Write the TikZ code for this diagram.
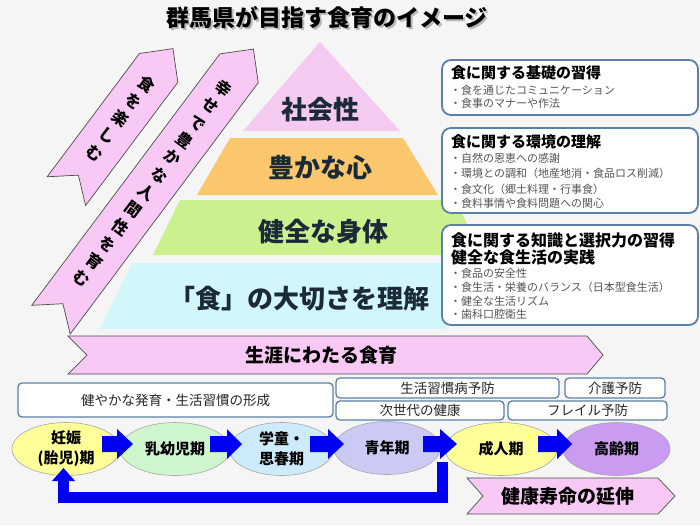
\documentclass[tikz,border=0pt]{standalone}
\usepackage{fontspec}
\setmainfont{Noto Sans CJK JP}
\usetikzlibrary{shapes.geometric}
\definecolor{bg}{HTML}{F5F5F5}
\definecolor{pinkA}{HTML}{F8C9F5}
\definecolor{pyrPink}{HTML}{F4CAF1}
\definecolor{pyrOrange}{HTML}{FAC76C}
\definecolor{pyrGreen}{HTML}{CDF08E}
\definecolor{pyrBlue}{HTML}{D2F7FA}
\definecolor{pyrC}{HTML}{1B2A38}
\definecolor{boxB}{HTML}{5B80A8}
\definecolor{itemC}{HTML}{555555}
\definecolor{arrowblue}{HTML}{0000F5}
\definecolor{eYellow}{HTML}{FFFF99}
\definecolor{eGreen}{HTML}{CFF5CF}
\definecolor{eBlue}{HTML}{CDEBFA}
\definecolor{eLav}{HTML}{CACAF5}
\definecolor{ePurple}{HTML}{C99CF2}
\newcommand{\bluearrow}[3]{\fill[arrowblue] (#1,436) -- (#2,436) -- (#2,429) -- (#3,444) -- (#2,459) -- (#2,452) -- (#1,452) -- cycle;}
\tikzset{
  pinkshape/.style={fill=pinkA, draw=gray!60!black, line width=0.7pt},
  pyrtext/.style={font=\fontsize{26}{26}\selectfont\bfseries, text=pyrC, inner sep=0},
  arrowtext/.style={font=\fontsize{16}{21.6}\selectfont\bfseries, align=center, inner sep=0, text=black},
  rbox/.style={draw=boxB, line width=1.8pt, fill=white, rounded corners=9pt, inner sep=0},
  rtitle/.style={anchor=west, inner sep=0, font=\fontsize{15}{15}\selectfont\bfseries, text=black},
  ritem/.style={anchor=west, inner sep=0, font=\fontsize{11}{11}\selectfont, text=itemC},
  lbox/.style={draw=boxB, line width=1.3pt, fill=white, rounded corners=4pt, inner sep=0,
    font=\fontsize{13.5}{14}\selectfont, text=gray!30!black},
  ell/.style={ellipse, draw=gray!70, line width=0.6pt, minimum width=108pt, minimum height=53pt,
    inner sep=0, font=\fontsize{15}{20}\selectfont\bfseries, align=center, text=black},
  bandtext/.style={font=\fontsize{19}{19}\selectfont\bfseries, inner sep=0, text=black}
}
\begin{document}
\begin{tikzpicture}[x=1pt,y=-1pt]
\useasboundingbox (0,0) rectangle (700,525);
\fill[bg] (0,0) rectangle (700,525);

% title (with its grey shadow)
\node[font=\fontsize{23}{23}\selectfont\bfseries, text=gray!55, inner sep=0] (titleshadow) at (329,19.5) {群馬県が目指す食育のイメージ};
\node[font=\fontsize{23}{23}\selectfont\bfseries, text=black, inner sep=0] (title) at (327,17.5) {群馬県が目指す食育のイメージ};

% pyramid
\fill[pyrPink] (320,42) -- (400,131) -- (243,131) -- cycle;
\fill[pyrOrange] (230,138) -- (403,138) -- (438,195) -- (197,195) -- cycle;
\fill[pyrGreen] (180,200) -- (455,200) -- (470,230) -- (470,255) -- (153,255) -- cycle;
\fill[pyrBlue] (132,263) -- (446,263) -- (446,329) -- (100,329) -- cycle;
\node[pyrtext] (p1) at (320,110) {社会性};
\node[pyrtext] (p2) at (320,168) {豊かな心};
\node[pyrtext] (p3) at (323,232) {健全な身体};
\node[pyrtext] (p4) at (299,299) {「食」の大切さを理解};

% left arrows
\begin{scope}[shift={(112.5,129.5)}, rotate=-36.8, y=1pt]
  \draw[pinkshape] (-24,-77) -- (-24,77) -- (0,101) -- (24,77) -- (24,-77) -- (0,-57) -- cycle;
  \node[arrowtext, transform shape] (a1) at (0,14) {食\\を\\楽\\し\\む};
\end{scope}
\begin{scope}[shift={(145,194)}, rotate=-36.8, y=1pt]
  \draw[pinkshape] (-24,-157) -- (-24,157) -- (0,181) -- (24,157) -- (24,-157) -- (0,-137) -- cycle;
  \node[arrowtext, transform shape] (a2) at (0,13) {幸\\せ\\で\\豊\\か\\な\\人\\間\\性\\を\\育\\む};
\end{scope}

% right boxes
\node[rbox, minimum width=256pt, minimum height=55pt] (r1) at (570,87.5) {};
\node[rtitle] (r1t) at (451,73) {食に関する基礎の習得};
\node[ritem] (r1a) at (450,90) {・食を通じたコミュニケーション};
\node[ritem] (r1b) at (450,103.5) {・食事のマナーや作法};

\node[rbox, minimum width=256pt, minimum height=85pt] (r2) at (570,170.5) {};
\node[rtitle] (r2t) at (451,142) {食に関する環境の理解};
\node[ritem] (r2a) at (450,158) {・自然の恩恵への感謝};
\node[ritem] (r2b) at (450,173.5) {・環境との調和（地産地消・食品ロス削減）};
\node[ritem] (r2c) at (450,189) {・食文化（郷土料理・行事食）};
\node[ritem] (r2d) at (450,203.5) {・食料事情や食料問題への関心};

\node[rbox, minimum width=256pt, minimum height=100pt] (r3) at (570,275) {};
\node[rtitle, font=\fontsize{16}{16}\selectfont\bfseries] (r3t) at (451,240) {食に関する知識と選択力の習得};
\node[rtitle, font=\fontsize{16}{16}\selectfont\bfseries] (r3u) at (451,257) {健全な食生活の実践};
\node[ritem] (r3a) at (450,273) {・食品の安全性};
\node[ritem] (r3b) at (450,287) {・食生活・栄養のバランス（日本型食生活）};
\node[ritem] (r3c) at (450,301) {・健全な生活リズム};
\node[ritem] (r3d) at (450,314.5) {・歯科口腔衛生};

% lifelong band
\draw[pinkshape] (68,336) -- (587,336) -- (603,355) -- (587,374) -- (68,374) -- (87,355) -- cycle;
\node[bandtext] (band1) at (321,355) {生涯にわたる食育};

% bottom boxes
\node[lbox, minimum width=315pt, minimum height=34pt] (b1) at (175.5,400) {健やかな発育・生活習慣の形成};
\node[lbox, minimum width=223pt, minimum height=20pt] (b2) at (447.5,388) {生活習慣病予防};
\node[lbox, minimum width=100pt, minimum height=20pt] (b3) at (615,388) {介護予防};
\node[lbox, minimum width=168pt, minimum height=19pt] (b4) at (420,410.5) {次世代の健康};
\node[lbox, minimum width=159pt, minimum height=19pt] (b5) at (587.5,410.5) {フレイル予防};

% ellipses
\node[ell, fill=eYellow] (e1) at (66,449) {妊娠\\(胎児)期};
\node[ell, fill=eGreen, minimum width=110pt] (e2) at (175,449) {乳幼児期};
\node[ell, fill=eBlue, minimum width=104pt] (e3) at (281.5,449) {学童・\\思春期};
\node[ell, fill=eLav, minimum width=106pt] (e4) at (387,448) {青年期};
\node[ell, fill=eYellow, minimum width=112pt] (e5) at (501,449) {成人期};
\node[ell, fill=ePurple, minimum width=107pt] (e6) at (616.5,449) {高齢期};

% blue block arrows
\bluearrow{102}{117}{133}
\bluearrow{210}{227}{242}
\bluearrow{310}{328}{344}
\bluearrow{423}{440}{457}
\bluearrow{538}{557}{572}

% return arrow
\coordinate (rs) at (442.5,462);
\coordinate (rc1) at (442.5,497);
\coordinate (rc2) at (63.5,497);
\coordinate (re) at (63.5,480);
\draw[arrowblue, line width=11pt, miter limit=10] (rs) -- (rc1) -- (rc2) -- (re);
\fill[arrowblue] (52,481) -- (75,481) -- (63.5,468) -- cycle;

% healthy life band
\draw[pinkshape] (467,478) -- (658,478) -- (675,496) -- (658,514) -- (467,514) -- (483,496) -- cycle;
\node[bandtext] (band2) at (567.5,496) {健康寿命の延伸};
\end{tikzpicture}
\end{document}
